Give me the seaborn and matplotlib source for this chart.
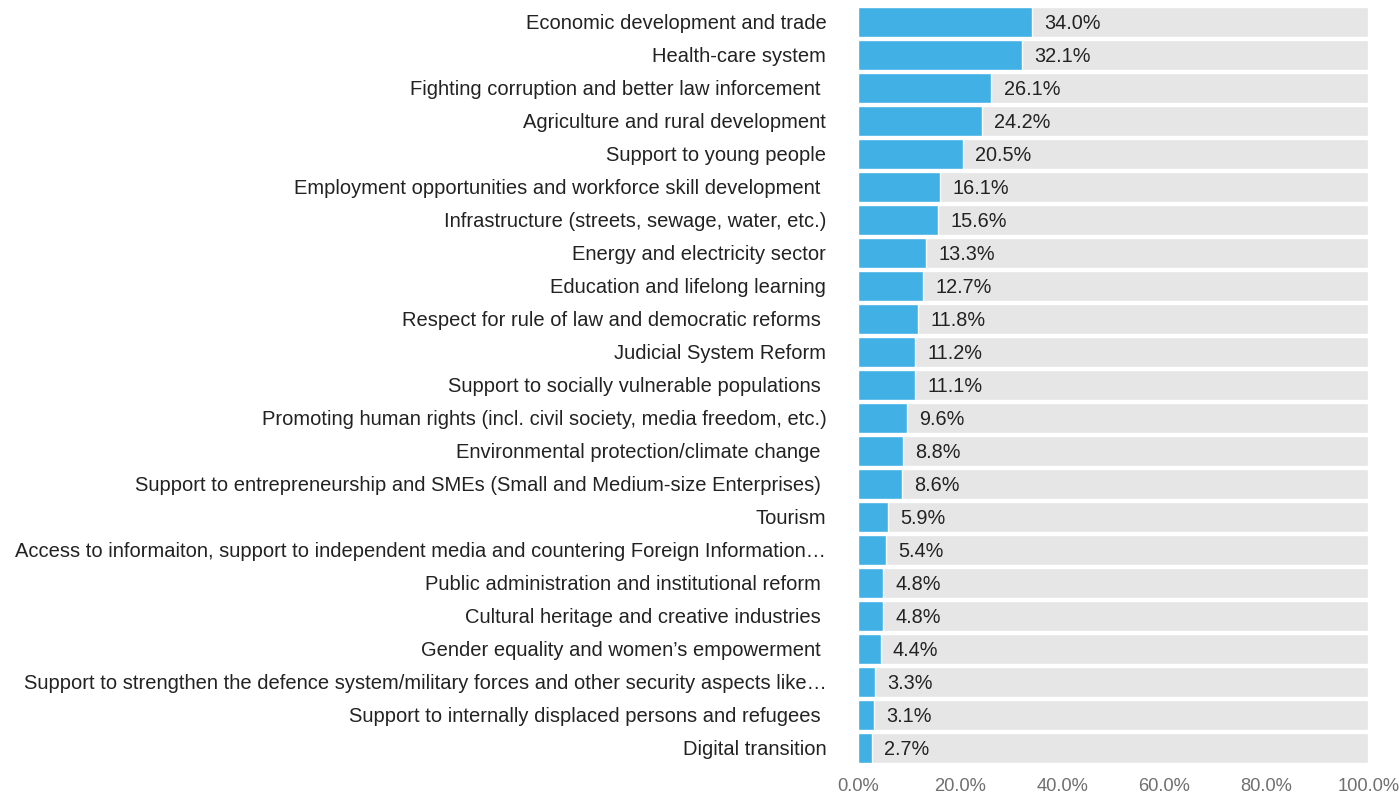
import matplotlib.pyplot as plt
import pandas as pd
import seaborn as sns

categories = [
    "Economic development and trade",
    "Health-care system",
    "Fighting corruption and better law inforcement ",
    "Agriculture and rural development",
    "Support to young people",
    "Employment opportunities and workforce skill development ",
    "Infrastructure (streets, sewage, water, etc.)",
    "Energy and electricity sector",
    "Education and lifelong learning",
    "Respect for rule of law and democratic reforms ",
    "Judicial System Reform",
    "Support to socially vulnerable populations ",
    "Promoting human rights (incl. civil society, media freedom, etc.)",
    "Environmental protection/climate change ",
    "Support to entrepreneurship and SMEs (Small and Medium-size Enterprises) ",
    "Tourism",
    "Access to informaiton, support to independent media and countering Foreign Information\u2026",
    "Public administration and institutional reform ",
    "Cultural heritage and creative industries ",
    "Gender equality and women\u2019s empowerment ",
    "Support to strengthen the defence system/military forces and other security aspects like\u2026",
    "Support to internally displaced persons and refugees ",
    "Digital transition",
]
values = [34.0, 32.1, 26.1, 24.2, 20.5, 16.1, 15.6, 13.3, 12.7, 11.8, 11.2, 11.1,
          9.6, 8.8, 8.6, 5.9, 5.4, 4.8, 4.8, 4.4, 3.3, 3.1, 2.7]
full_scale = [100.0] * len(categories)

df = pd.DataFrame({"topic": categories, "share": values, "full": full_scale})

sns.set_theme(style="white")
plt.rcParams['font.family'] = ['Liberation Sans', 'DejaVu Sans']

fig = plt.figure(figsize=(13.99, 7.96), dpi=100)
ax = fig.add_axes([0.6135, 0.0396, 0.3645, 0.9535])

# grey track to 100%, then the blue share on top
sns.barplot(data=df, y="topic", x="full", orient="h", color="#e6e6e6",
            width=0.92, saturation=1, ax=ax)
sns.barplot(data=df, y="topic", x="share", orient="h", color="#41b0e4",
            width=0.92, saturation=1, ax=ax)

for i, v in enumerate(values):
    ax.text(v + 2.4, i + 0.05, "{:.1f}%".format(v), va="center", ha="left",
            fontsize=14.3, color="#222222")

ax.set_xlim(0, 100)
ax.set_ylim(len(categories) - 0.5, -0.5)
ax.set_xticks([0, 20, 40, 60, 80, 100])
ax.set_xticklabels(["{:.1f}%".format(t) for t in [0, 20, 40, 60, 80, 100]],
                   fontsize=13.2, color="#707070")
ax.tick_params(axis="y", labelsize=14.5, labelcolor="#222222", pad=23, length=0)
ax.tick_params(axis="x", pad=10, length=0)
ax.set_xlabel("")
ax.set_ylabel("")
for s in ax.spines.values():
    s.set_visible(False)

plt.savefig("out.png", dpi=100)
